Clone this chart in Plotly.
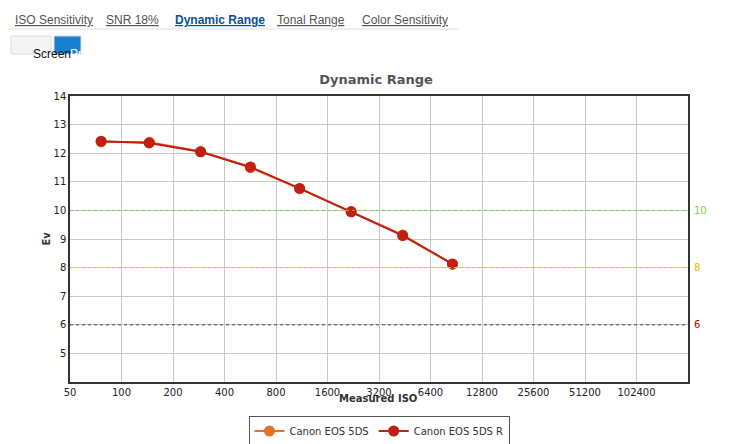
import plotly.graph_objects as go
import math

iso_5ds = [76, 146, 290, 567, 1100, 2200, 4400, 8600]
ev_5ds = [12.40, 12.38, 12.06, 11.50, 10.76, 9.96, 9.14, 8.12]
iso_5dsr = [76, 145, 290, 567, 1100, 2200, 4400, 8600]
ev_5dsr = [12.42, 12.36, 12.05, 11.52, 10.77, 9.95, 9.12, 8.13]
xticks = [50, 100, 200, 400, 800, 1600, 3200, 6400, 12800, 25600, 51200, 102400]
yticks = [4, 5, 6, 7, 8, 9, 10, 11, 12, 13, 14]
refs = [(10, "#7fd13b", "#7fd13b"), (8, "#f0c419", "#e8b800"), (6, "#444444", "#c00000")]

L, R, T, B, W, H = 62, 56, 88, 70, 736, 444
pw, ph = W - L - R, H - T - B
def px(x): return (x - L) / pw
def py(y): return (H - B - y) / ph

fig = go.Figure()
fig.add_trace(go.Scatter(x=iso_5ds, y=ev_5ds, name="Canon EOS 5DS", mode="lines+markers",
                         line=dict(color="#e8702a", width=2), marker=dict(size=11, color="#e8702a")))
fig.add_trace(go.Scatter(x=iso_5dsr, y=ev_5dsr, name="Canon EOS 5DS R", mode="lines+markers",
                         line=dict(color="#c21f14", width=2), marker=dict(size=11, color="#c21f14")))

shapes = []
for v, c, tc in refs:
    shapes.append(dict(type="line", xref="paper", x0=0, x1=1, yref="y", y0=v, y1=v,
                       line=dict(color=c, width=1, dash="dot")))
shapes += [
    dict(type="line", xref="paper", yref="paper", x0=px(0), x1=px(450), y0=py(21), y1=py(21),
         line=dict(color="#dddddd", width=1)),
    dict(type="rect", xref="paper", yref="paper", x0=px(3), x1=px(43), y0=py(46), y1=py(28),
         line=dict(color="#dddddd", width=1), fillcolor="#f4f4f4"),
    dict(type="rect", xref="paper", yref="paper", x0=px(46), x1=px(73), y0=py(46), y1=py(28),
         line=dict(color="#dddddd", width=1), fillcolor="#1a7fd0"),
]
ann = []
nav = [("ISO Sensitivity", 5), ("SNR 18%", 96), ("Dynamic Range", 165), ("Tonal Range", 267), ("Color Sensitivity", 352)]
for t, x in nav:
    active = t == "Dynamic Range"
    ann.append(dict(text=("<b><u>%s</u></b>" if active else "<u>%s</u>") % t, x=px(x), y=py(12),
                    xref="paper", yref="paper", xanchor="left", yanchor="middle", showarrow=False,
                    font=dict(size=12, color="#0b4f9c" if active else "#555555", family="Liberation Sans")))
ann.append(dict(text="Screen", x=px(23), y=py(37), xref="paper", yref="paper", showarrow=False,
                font=dict(size=12, color="#111", family="Liberation Sans")))
ann.append(dict(text="Print", x=px(59.5), y=py(37), xref="paper", yref="paper", showarrow=False,
                font=dict(size=12, color="white", family="Liberation Sans")))
for v, c, tc in refs:
    ann.append(dict(text=str(v), x=px(684), y=v, xref="paper", yref="y", xanchor="left",
                    showarrow=False, font=dict(size=10, color=tc, family="DejaVu Sans")))
ann.append(dict(text="<b>Ev</b>", x=px(30), y=py(231), xref="paper", yref="paper", textangle=-90,
                showarrow=False, font=dict(size=10, color="#333", family="DejaVu Sans")))
ann.append(dict(text="<b>Measured ISO</b>", x=px(370), y=py(398), xref="paper", yref="paper",
                showarrow=False, font=dict(size=10, color="#333", family="DejaVu Sans")))

fig.update_layout(
    width=W, height=H, margin=dict(l=L, r=R, t=T, b=B, autoexpand=False),
    paper_bgcolor="white", plot_bgcolor="white",
    title=dict(text="<b>Dynamic Range</b>", x=0.5, xanchor="center", y=1 - 71 / H, yanchor="middle",
               font=dict(size=13, color="#555555", family="DejaVu Sans")),
    xaxis=dict(type="log", range=[math.log10(50), math.log10(204800)], tickvals=xticks,
               ticktext=[str(v) for v in xticks], showgrid=True, gridcolor="#c8c8c8",
               showline=True, linecolor="#333", linewidth=1.5, mirror=True, zeroline=False,
               tickfont=dict(size=10, color="#222", family="DejaVu Sans"), ticks=""),
    yaxis=dict(range=[4, 14], tickvals=yticks, ticktext=["" if v == 4 else str(v) for v in yticks],
               showgrid=True, gridcolor="#c8c8c8",
               showline=True, linecolor="#333", linewidth=1.5, mirror=True, zeroline=False,
               tickfont=dict(size=10, color="#222", family="DejaVu Sans"), ticks=""),
    legend=dict(orientation="h", x=0.5, xanchor="center", yref="container", y=1 - 423 / H, yanchor="middle",
                bordercolor="#555", borderwidth=1, font=dict(size=10, color="#333", family="DejaVu Sans")),
    shapes=shapes, annotations=ann, showlegend=True,
)
fig.write_html("out.html")
